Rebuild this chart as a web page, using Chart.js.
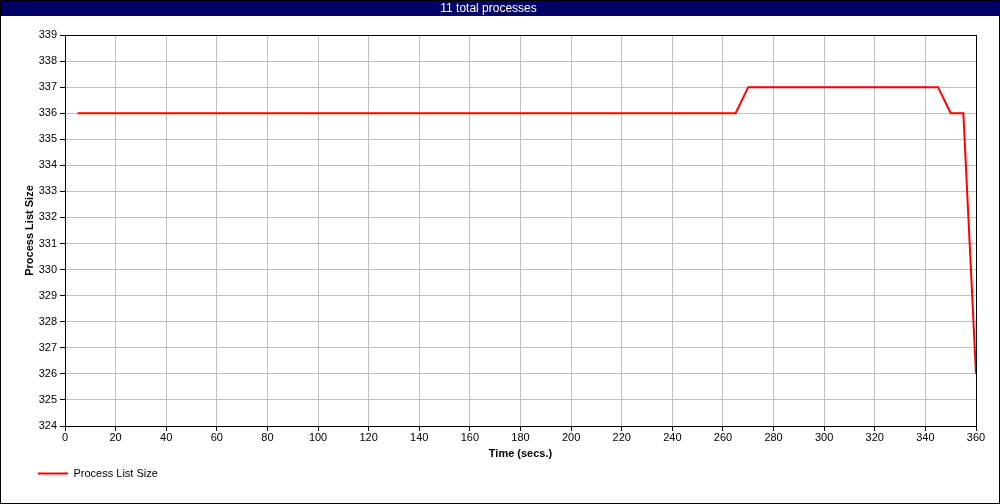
<!DOCTYPE html>
<html>
<head>
<meta charset="utf-8">
<script src="https://cdn.jsdelivr.net/npm/chart.js@4/dist/chart.umd.min.js"></script>
<style>
  body { margin: 0; background: #fff; }
  #box { width: 1000px; height: 504px; border: 1px solid #000; box-sizing: border-box; }
  canvas { display: block; }
</style>
</head>
<body>
<div id="box"><canvas id="plot" width="998" height="502"></canvas></div>
<script>
// valores (amostra a cada 5 s)
const tempos = [5, 10, 15, 20, 25, 30, 35, 40, 45, 50, 55, 60, 65, 70, 75, 80, 85, 90, 95, 100,
  105, 110, 115, 120, 125, 130, 135, 140, 145, 150, 155, 160, 165, 170, 175, 180, 185, 190, 195, 200,
  205, 210, 215, 220, 225, 230, 235, 240, 245, 250, 255, 260, 265, 270, 275, 280, 285, 290, 295, 300,
  305, 310, 315, 320, 325, 330, 335, 340, 345, 350, 355, 360];
const tamanhos = [336, 336, 336, 336, 336, 336, 336, 336, 336, 336, 336, 336, 336, 336, 336, 336, 336, 336, 336, 336,
  336, 336, 336, 336, 336, 336, 336, 336, 336, 336, 336, 336, 336, 336, 336, 336, 336, 336, 336, 336,
  336, 336, 336, 336, 336, 336, 336, 336, 336, 336, 336, 336, 336, 337, 337, 337, 337, 337, 337, 337,
  337, 337, 337, 337, 337, 337, 337, 337, 337, 336, 336, 326];

const titulo = "11 total processes";
const nome_serie = "Process List Size";
const titulo_x = "Time (secs.)";
const titulo_y = "Process List Size";
const x_min = 0, x_max = 360, x_passo = 20;
const y_min = 324, y_max = 339, y_passo = 1;

Chart.defaults.font.family = "'Liberation Sans', Arial, sans-serif";
Chart.defaults.font.size = 11;
Chart.defaults.color = "#000";

// faixa azul do titulo + moldura preta da area do grafico
const moldura = {
  id: "moldura",
  beforeDraw(chart) {
    const ctx = chart.ctx;
    ctx.save();
    ctx.fillStyle = "#000066";
    ctx.fillRect(0, 0, chart.width, 15);
    ctx.restore();
  },
  afterLayout(chart) {
    // legenda comeca mais a direita
    chart.legend.left += 33;
    chart.legend.right += 33;
  },
  afterDatasetsDraw(chart) {
    const a = chart.chartArea;
    const ctx = chart.ctx;
    ctx.save();
    ctx.strokeStyle = "#000";
    ctx.lineWidth = 1;
    ctx.strokeRect(Math.round(a.left) + 0.5, Math.round(a.top) + 0.5,
      Math.round(a.right - a.left), Math.round(a.bottom - a.top));
    ctx.restore();
  }
};

const pontos = tempos.map((t, i) => ({ x: t, y: tamanhos[i] }));

new Chart(document.getElementById("plot"), {
  type: "line",
  data: {
    datasets: [{
      label: nome_serie,
      data: pontos,
      borderColor: "#ff0000",
      backgroundColor: "#ff0000",
      borderWidth: 2,
      pointRadius: 0,
      tension: 0,
      clip: false
    }]
  },
  options: {
    responsive: false,
    animation: false,
    layout: { padding: { left: 0, right: 23, top: 0, bottom: 14 } },
    plugins: {
      title: {
        display: true,
        text: titulo,
        color: "#fff",
        font: { size: 12, weight: "normal", lineHeight: 1.2 },
        padding: { top: 0, bottom: 19.6 }
      },
      legend: {
        position: "bottom",
        align: "start",
        labels: {
          usePointStyle: true,
          pointStyle: "line",
          pointStyleWidth: 30,
          boxHeight: 11,
          padding: 4,
          font: { size: 11 }
        }
      },
      tooltip: { enabled: false }
    },
    scales: {
      x: {
        type: "linear",
        min: x_min,
        max: x_max,
        afterFit(scale) { scale.height = 38; },
        ticks: { stepSize: x_passo, padding: 0, maxRotation: 0, autoSkip: false },
        grid: { color: "#c0c0c0", tickColor: "#000", tickLength: 5 },
        border: { color: "#000", width: 1 },
        title: { display: true, text: titulo_x, font: { size: 11, weight: "bold" }, padding: { top: 2, bottom: 3 } }
      },
      y: {
        min: y_min,
        max: y_max,
        afterFit(scale) { scale.width = 64; },
        ticks: { stepSize: y_passo, padding: 3, autoSkip: false },
        grid: { color: "#c0c0c0", tickColor: "#000", tickLength: 5 },
        border: { color: "#000", width: 1 },
        title: { display: true, text: titulo_y, font: { size: 11, weight: "bold" }, padding: { top: 22, bottom: 0 } }
      }
    }
  },
  plugins: [moldura]
});
</script>
</body>
</html>
